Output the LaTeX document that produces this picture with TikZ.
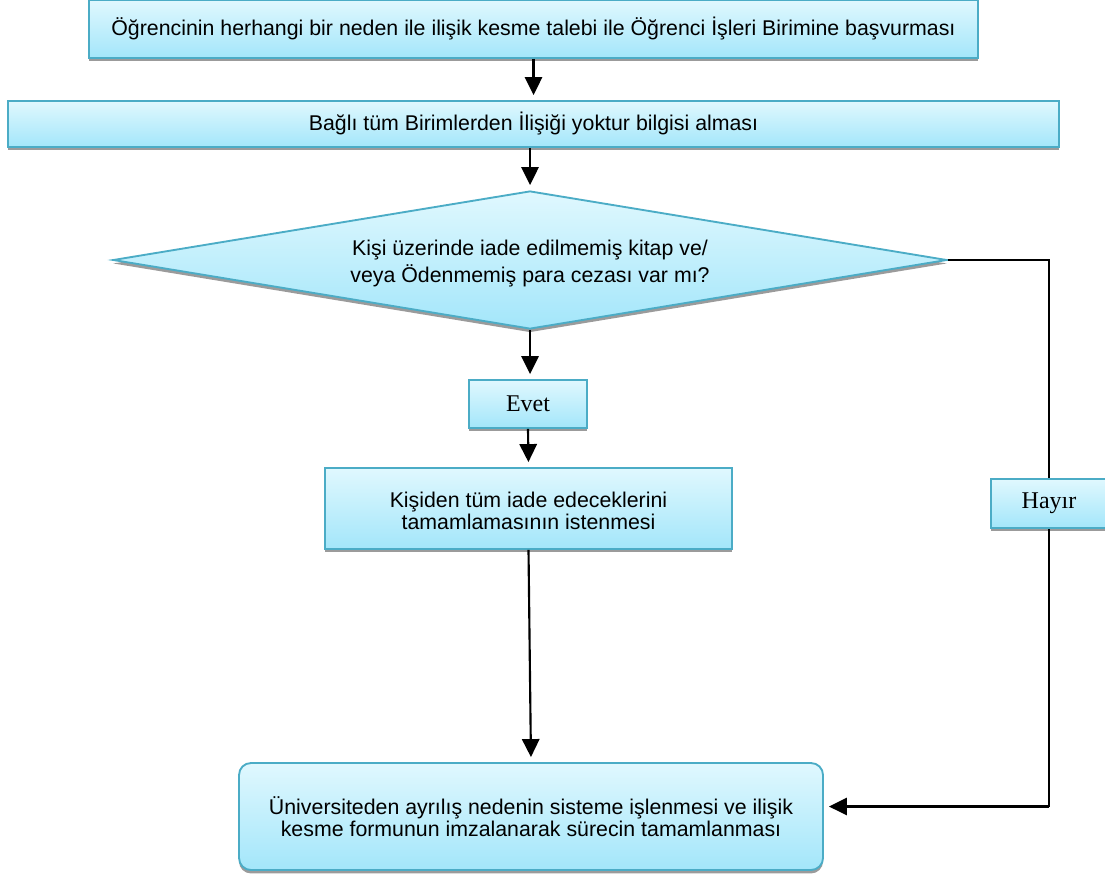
\documentclass[tikz,border=0pt]{standalone}
\usepackage{fontspec}
\setmainfont{Liberation Sans}
\newfontfamily\timesf{Liberation Serif}
\usetikzlibrary{shapes.geometric,shadows,arrows.meta}
\definecolor{bord}{RGB}{75,172,198}
\definecolor{ftop}{RGB}{224,248,254}
\definecolor{fbot}{RGB}{163,230,250}
\definecolor{shd}{RGB}{155,155,155}
\begin{document}
\begin{tikzpicture}[x=0.75pt,y=-0.75pt,
  base/.style={draw=bord, line width=1.4pt, top color=ftop, bottom color=fbot,
    inner sep=0pt, align=center,
    drop shadow={shadow xshift=0pt, shadow yshift=-2.6pt, fill=shd, opacity=1}},
  box/.style={base, rectangle, font=\fontsize{16}{16.5}\selectfont},
  lbl/.style={base, rectangle, font=\timesf\fontsize{18}{18}\selectfont},
  dec/.style={base, diamond, aspect=6.04, font=\fontsize{16}{20.5}\selectfont},
  arr/.style={line width=1.6pt, -{Triangle[length=13.5pt,width=13pt]}, shorten >=3.75pt},
  lin/.style={line width=1.3pt}
]
\useasboundingbox (0,0) rectangle (1105,874);

\node[box, minimum width={889*0.75pt}, minimum height={58*0.75pt}] (top) at (533.5,29)
  {Öğrencinin herhangi bir neden ile ilişik kesme talebi ile Öğrenci İşleri Birimine başvurması};
\node[box, minimum width={1051*0.75pt}, minimum height={46*0.75pt}] (bag) at (533.5,124)
  {Bağlı tüm Birimlerden İlişiği yoktur bilgisi alması};
\node[dec, minimum width={834*0.75pt}, minimum height={138*0.75pt}] (dia) at (530,260)
  {\rule{0pt}{17pt}Kişi üzerinde iade edilmemiş kitap ve/\\veya Ödenmemiş para cezası var mı?};
\node[lbl, minimum width={118*0.75pt}, minimum height={48*0.75pt}] (evet) at (528,404) {Evet};
\node[box, minimum width={407*0.75pt}, minimum height={81*0.75pt}] (kis) at (528.5,508.5)
  {\rule{0pt}{15pt}Kişiden tüm iade edeceklerini\\tamamlamasının istenmesi};
\node[lbl, minimum width={116*0.75pt}, minimum height={49*0.75pt}] (hay) at (1049,503.5) {Hayır};
\node[box, rounded corners=9pt, minimum width={584*0.75pt}, minimum height={107*0.75pt}] (fin) at (531,816.5)
  {Üniversiteden ayrılış nedenin sisteme işlenmesi ve ilişik\\kesme formunun imzalanarak sürecin tamamlanması};

\coordinate (fe) at ([yshift=7.5pt]fin.east);

\draw[arr] (top.south) -- (bag.north);
\draw[arr] (bag.south -| dia.north) -- (dia.north);
\draw[arr] (dia.south) -- (dia.south |- evet.north);
\draw[arr] (evet.south) -- (kis.north);
\draw[arr] (kis.south) -- (fin.north);
\draw[lin] (dia.east) -- (dia.east -| hay.north) -- (hay.north);
\draw[lin] (hay.south) -- (hay.south |- fe);
\draw[arr] (hay.south |- fe) -- (fe);
\end{tikzpicture}
\end{document}
